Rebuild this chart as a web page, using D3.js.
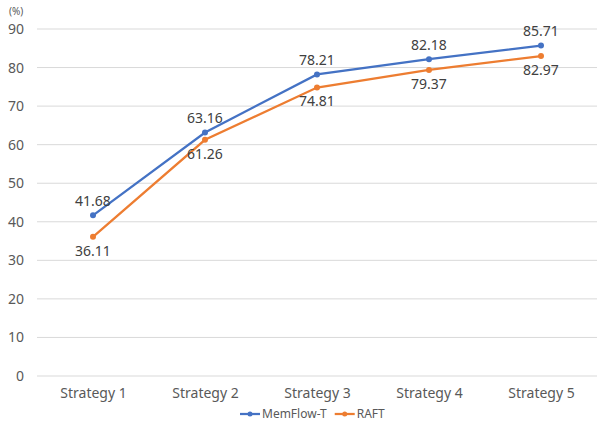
<!DOCTYPE html>
<html>
<head>
<meta charset="utf-8">
<script src="https://cdn.jsdelivr.net/npm/d3@7"></script>
<style>
  body { margin: 0; background: #fff; }
  text { font-family: "Noto Sans", "Open Sans", sans-serif; }
</style>
</head>
<body>
<div class="chart"></div>
<script>
// data
const categories = ["Strategy 1", "Strategy 2", "Strategy 3", "Strategy 4", "Strategy 5"];
const memflow = [41.68, 63.16, 78.21, 82.18, 85.71];
const raft = [36.11, 61.26, 74.81, 79.37, 82.97];
const yTicks = [0, 10, 20, 30, 40, 50, 60, 70, 80, 90];
const seriesNames = ["MemFlow-T", "RAFT"];

const wdth = 600, hght = 425;
const margin = {top: 29, right: 3, bottom: 49, left: 37};

const svg = d3.select(".chart")
  .append("svg")
  .attr("width", wdth)
  .attr("height", hght);

const x = d3.scalePoint()
  .domain(categories)
  .range([margin.left, wdth - margin.right])
  .padding(0.5);

const y = d3.scaleLinear()
  .domain([0, 90])
  .range([hght - margin.bottom, margin.top]);

// gridlines
svg.append("g")
  .selectAll("line")
  .data(yTicks)
  .enter()
  .append("line")
  .attr("x1", margin.left)
  .attr("x2", wdth - margin.right)
  .attr("y1", d => y(d))
  .attr("y2", d => y(d))
  .attr("stroke", "#d9d9d9")
  .attr("stroke-width", 1);

// y axis labels
const yAxis = svg.append("g")
  .attr("transform", `translate(${margin.left},0)`)
  .call(d3.axisLeft(y).tickValues(yTicks).tickSize(0).tickPadding(13));
yAxis.select(".domain").remove();
yAxis.selectAll("text")
  .attr("fill", "#595959")
  .style("font-size", "14px");

// unit label, sits just above the 90 tick
svg.append("text")
  .attr("x", 9)
  .attr("y", 15)
  .attr("fill", "#595959")
  .style("font-size", "10px")
  .text("(%)");

// x axis labels
const xAxis = svg.append("g")
  .attr("transform", `translate(0,${hght - margin.bottom})`)
  .call(d3.axisBottom(x).tickSize(0).tickPadding(12));
xAxis.select(".domain").remove();
xAxis.selectAll("text")
  .attr("fill", "#595959")
  .style("font-size", "14px");

const series = [
  {name: seriesNames[0], values: memflow, color: "#4472C4", dy: -14},
  {name: seriesNames[1], values: raft, color: "#ED7D31", dy: 14}
];

const line = d3.line()
  .x((d, i) => x(categories[i]))
  .y(d => y(d));

series.forEach(s => {
  const g = svg.append("g");
  g.append("path")
    .datum(s.values)
    .attr("fill", "none")
    .attr("stroke", s.color)
    .attr("stroke-width", 2.25)
    .attr("d", line);
  g.selectAll("circle")
    .data(s.values)
    .enter()
    .append("circle")
    .attr("cx", (d, i) => x(categories[i]))
    .attr("cy", d => y(d))
    .attr("r", 3)
    .attr("fill", s.color);
  g.selectAll("text")
    .data(s.values)
    .enter()
    .append("text")
    .attr("x", (d, i) => x(categories[i]))
    .attr("y", d => y(d) + s.dy)
    .attr("dy", "0.35em")
    .attr("text-anchor", "middle")
    .attr("fill", "#404040")
    .style("font-size", "14px")
    .text(d => d.toFixed(2));
});

// legend
const legend = svg.append("g")
  .attr("transform", `translate(240,${hght - 11})`);
let lx = 0;
series.forEach(s => {
  legend.append("line")
    .attr("x1", lx).attr("x2", lx + 20)
    .attr("y1", 0).attr("y2", 0)
    .attr("stroke", s.color)
    .attr("stroke-width", 2.25);
  legend.append("circle")
    .attr("cx", lx + 10).attr("cy", 0).attr("r", 2.5)
    .attr("fill", s.color);
  const t = legend.append("text")
    .attr("x", lx + 22)
    .attr("y", 0)
    .attr("dy", "0.35em")
    .attr("fill", "#595959")
    .style("font-size", "12px")
    .text(s.name);
  lx += 22 + t.node().getComputedTextLength() + 8;
});
</script>
</body>
</html>
